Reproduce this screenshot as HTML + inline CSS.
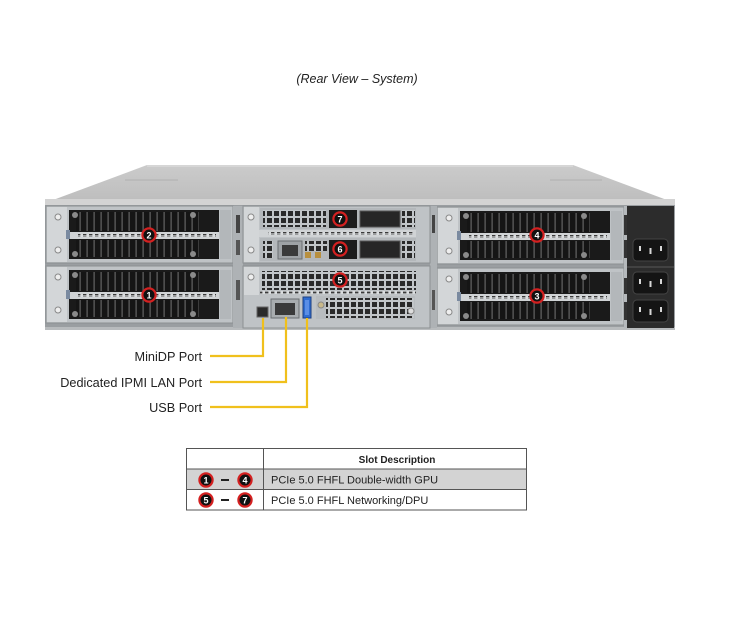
<!DOCTYPE html>
<html><head><meta charset="utf-8"><style>
html,body{margin:0;padding:0;background:#fff;}
body{width:737px;height:627px;overflow:hidden;}
svg{display:block;}
</style></head><body>
<svg width="737" height="627" viewBox="0 0 737 627" xmlns="http://www.w3.org/2000/svg" font-family="'Liberation Sans', Arial, sans-serif">
<defs>
 <linearGradient id="lid" x1="0" y1="0" x2="0" y2="1">
  <stop offset="0" stop-color="#cbcbcb"/><stop offset="1" stop-color="#bdbdbd"/>
 </linearGradient>
 <pattern id="vbars" width="7" height="10" patternUnits="userSpaceOnUse">
  <rect width="7" height="10" fill="#151515"/><rect x="5.3" width="1.7" height="10" fill="#4d4d4d"/>
 </pattern>
 <pattern id="holes" width="7" height="7" patternUnits="userSpaceOnUse">
  <rect width="7" height="7" fill="#c2c6c9"/><rect x="1" y="1" width="5" height="5" fill="#2a2a2a"/>
 </pattern>
 <pattern id="dash" width="6" height="3" patternUnits="userSpaceOnUse">
  <rect width="6" height="3" fill="#d9dcde"/><rect x="1" y="0.6" width="3.4" height="1.8" fill="#3a3a3a"/>
 </pattern>
 <g id="gpu">
  <rect x="0" y="0" width="187" height="57" fill="#bfc3c6" stroke="#8c9093" stroke-width="1"/>
  <rect x="1" y="1" width="20" height="55" fill="#d3d6d8"/>
  <circle cx="12" cy="11" r="3" fill="#eeeeee" stroke="#888" stroke-width="1"/>
  <circle cx="12" cy="44" r="3" fill="#eeeeee" stroke="#888" stroke-width="1"/>
  <rect x="23" y="4" width="150" height="49" fill="#1a1a1a"/>
  <rect x="30" y="6" width="123" height="19" fill="url(#vbars)"/>
  <rect x="30" y="34" width="123" height="17" fill="url(#vbars)"/>
  <rect x="23" y="26" width="150" height="7" fill="#d0d3d5"/>
  <rect x="32" y="28" width="138" height="3" fill="url(#dash)"/>
  <circle cx="29" cy="9" r="3" fill="#8a8a8a"/>
  <circle cx="147" cy="9" r="3" fill="#8a8a8a"/>
  <circle cx="29" cy="48" r="3" fill="#8a8a8a"/>
  <circle cx="147" cy="48" r="3" fill="#8a8a8a"/>
  <rect x="20" y="24" width="4" height="9" fill="#7a8aa0"/>
  <rect x="174" y="4" width="11" height="49" fill="#b3b7ba"/>
 </g>
 <g id="badge">
  <circle r="6.6" fill="#111" stroke="#d42020" stroke-width="2.2"/>
 </g>
</defs>

<!-- Title -->
<text x="357" y="83" font-size="12.5" font-style="italic" text-anchor="middle" fill="#222">(Rear View – System)</text>

<!-- Chassis lid -->
<polygon points="147,165 573,165 675,203 45,203" fill="url(#lid)"/>
<rect x="147" y="165" width="426" height="2" fill="#d6d6d6"/>
<line x1="125" y1="180" x2="178" y2="180" stroke="#b0b0b0" stroke-width="1"/>
<line x1="550" y1="180" x2="602" y2="180" stroke="#b0b0b0" stroke-width="1"/>
<rect x="45" y="199" width="630" height="6" fill="#d3d3d3"/>

<!-- front face base -->
<rect x="45" y="205" width="630" height="125" fill="#9a9ea1"/>
<rect x="45" y="327" width="630" height="3" fill="#b8bbbd"/>

<!-- GPU modules -->
<use href="#gpu" x="46" y="206"/>
<use href="#gpu" x="46" y="266"/>
<use href="#gpu" x="437" y="207"/>
<use href="#gpu" x="437" y="268"/>

<!-- gaps -->
<rect x="233" y="206" width="10" height="122" fill="#aeb2b5"/>
<rect x="236" y="215" width="4" height="18" fill="#444"/>
<rect x="236" y="240" width="4" height="15" fill="#555"/>
<rect x="236" y="280" width="4" height="20" fill="#555"/>
<rect x="430" y="206" width="7" height="122" fill="#aeb2b5"/>
<rect x="432" y="215" width="3" height="18" fill="#444"/>
<rect x="432" y="290" width="3" height="20" fill="#555"/>
<rect x="624" y="206" width="4" height="122" fill="#b5b9bc"/>
<rect x="624" y="215" width="3" height="20" fill="#333"/>
<rect x="624" y="240" width="3" height="18" fill="#333"/>
<rect x="624" y="278" width="3" height="16" fill="#333"/>
<rect x="624" y="302" width="3" height="18" fill="#333"/>

<!-- Center top module -->
<rect x="243" y="206" width="187" height="57" fill="#bfc3c6" stroke="#8c9093" stroke-width="1"/>
<rect x="244" y="207" width="15" height="55" fill="#d3d6d8"/>
<circle cx="251" cy="217" r="3" fill="#eee" stroke="#888"/>
<circle cx="251" cy="250" r="3" fill="#eee" stroke="#888"/>
<!-- card 7 -->
<rect x="260" y="208" width="156" height="21" fill="#b4b8bb"/>
<rect x="263" y="210" width="63" height="17" fill="url(#holes)"/>
<rect x="329" y="210" width="28" height="18" fill="#1c1c1c"/>
<rect x="360" y="211" width="40" height="16" fill="#262626" stroke="#555"/>
<rect x="402" y="210" width="13" height="17" fill="url(#holes)"/>
<rect x="259" y="230" width="157" height="7" fill="#d0d3d5"/>
<rect x="268" y="232" width="145" height="3" fill="url(#dash)"/>
<!-- card 6 -->
<rect x="260" y="238" width="156" height="23" fill="#b4b8bb"/>
<rect x="263" y="241" width="10" height="17" fill="url(#holes)"/>
<rect x="278" y="241" width="24" height="18" fill="#9ea2a5" stroke="#6a6e71"/>
<rect x="282" y="245" width="16" height="11" fill="#3a3a3a"/>
<rect x="305" y="241" width="22" height="10" fill="url(#holes)"/>
<rect x="305" y="252" width="6" height="6" fill="#b89040"/>
<rect x="315" y="252" width="6" height="6" fill="#b89040"/>
<rect x="329" y="240" width="28" height="19" fill="#1c1c1c"/>
<rect x="360" y="241" width="40" height="17" fill="#262626" stroke="#555"/>
<rect x="402" y="241" width="13" height="17" fill="url(#holes)"/>

<!-- Center bottom module -->
<rect x="243" y="266" width="187" height="62" fill="#bfc3c6" stroke="#8c9093" stroke-width="1"/>
<rect x="244" y="267" width="15" height="28" fill="#d3d6d8"/>
<circle cx="251" cy="277" r="3" fill="#eee" stroke="#888"/>
<rect x="262" y="271" width="154" height="19" fill="url(#holes)"/>
<rect x="260" y="291" width="156" height="3" fill="url(#dash)"/>
<!-- ports -->
<rect x="257" y="307" width="11" height="10" fill="#2a2a2a" stroke="#666"/>
<rect x="271" y="299" width="28" height="19" fill="#a8acaf" stroke="#6a6e71"/>
<rect x="275" y="303" width="20" height="12" fill="#3a3a3a"/>
<rect x="303" y="297" width="8" height="21" fill="#2f6cd0" stroke="#1d3f80"/>
<rect x="305" y="300" width="4" height="15" fill="#5a8ee6"/>
<rect x="316" y="296" width="99" height="23" fill="#b8bcbf"/>
<rect x="326" y="298" width="88" height="20" fill="url(#holes)"/>
<circle cx="321" cy="305" r="3" fill="#c9b98a" stroke="#888"/>
<circle cx="411" cy="311" r="3" fill="#ddd" stroke="#888"/>

<!-- PSU -->
<rect x="627" y="206" width="47" height="122" fill="#2c2c2c"/>
<line x1="627" y1="267" x2="674" y2="267" stroke="#4a4a4a" stroke-width="1.5"/>
<g fill="#141414" stroke="#444" stroke-width="1">
 <rect x="633" y="239" width="35" height="22" rx="4"/>
 <rect x="633" y="272" width="35" height="22" rx="4"/>
 <rect x="633" y="300" width="35" height="22" rx="4"/>
</g>
<g fill="#d8d8d8">
 <rect x="639" y="246" width="2" height="5"/><rect x="649.5" y="248" width="2" height="6"/><rect x="660" y="246" width="2" height="5"/>
 <rect x="639" y="279" width="2" height="5"/><rect x="649.5" y="281" width="2" height="6"/><rect x="660" y="279" width="2" height="5"/>
 <rect x="639" y="307" width="2" height="5"/><rect x="649.5" y="309" width="2" height="6"/><rect x="660" y="307" width="2" height="5"/>
</g>

<!-- Badges on chassis -->
<g font-size="9" font-weight="bold" fill="#fff" text-anchor="middle">
 <use href="#badge" x="149" y="235"/><text x="149" y="238.3">2</text>
 <use href="#badge" x="149" y="295"/><text x="149" y="298.3">1</text>
 <use href="#badge" x="537" y="235"/><text x="537" y="238.3">4</text>
 <use href="#badge" x="537" y="296"/><text x="537" y="299.3">3</text>
 <use href="#badge" x="340" y="219"/><text x="340" y="222.3">7</text>
 <use href="#badge" x="340" y="249"/><text x="340" y="252.3">6</text>
 <use href="#badge" x="340" y="280"/><text x="340" y="283.3">5</text>
</g>

<!-- Callout lines -->
<g stroke="#f0c01c" stroke-width="2.2" fill="none">
 <polyline points="210,356 263,356 263,318"/>
 <polyline points="210,382 286,382 286,317"/>
 <polyline points="210,407 307,407 307,318"/>
</g>
<g font-size="12.7" fill="#222" text-anchor="end">
 <text x="202" y="361">MiniDP Port</text>
 <text x="202" y="387">Dedicated IPMI LAN Port</text>
 <text x="202" y="412">USB Port</text>
</g>

<!-- Table -->
<rect x="187" y="469" width="340" height="20" fill="#d3d3d3"/>
<g stroke="#555" stroke-width="1" fill="none">
 <rect x="186.5" y="448.5" width="340" height="61.5"/>
 <line x1="186.5" y1="469" x2="526.5" y2="469"/>
 <line x1="186.5" y1="489.5" x2="526.5" y2="489.5"/>
 <line x1="263.5" y1="448.5" x2="263.5" y2="510"/>
</g>
<text x="397" y="463" font-size="10" font-weight="bold" text-anchor="middle" fill="#222">Slot Description</text>
<text x="271" y="483.5" font-size="11" fill="#222">PCIe 5.0 FHFL Double-width GPU</text>
<text x="271" y="504" font-size="11" fill="#222">PCIe 5.0 FHFL Networking/DPU</text>
<g font-size="9" font-weight="bold" fill="#fff" text-anchor="middle">
 <use href="#badge" x="206" y="480"/><text x="206" y="483.3">1</text>
 <use href="#badge" x="245" y="480"/><text x="245" y="483.3">4</text>
 <use href="#badge" x="206" y="500"/><text x="206" y="503.3">5</text>
 <use href="#badge" x="245" y="500"/><text x="245" y="503.3">7</text>
</g>
<g fill="#222">
 <rect x="221" y="479" width="8" height="2"/>
 <rect x="221" y="499" width="8" height="2"/>
</g>
</svg>
</body></html>
